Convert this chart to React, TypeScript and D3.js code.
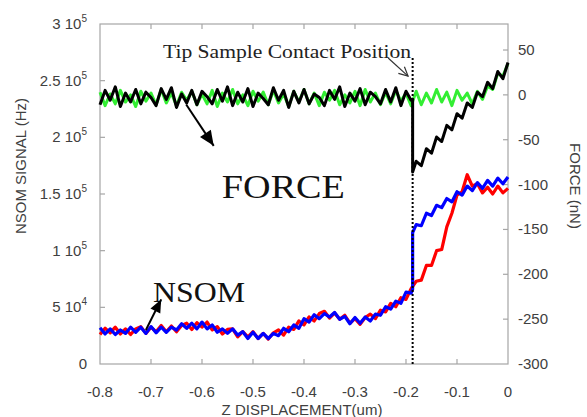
import React from "react";
import * as d3 from "d3";

// ---- data ----
const zPre = [-0.80, -0.79, -0.78, -0.77, -0.76, -0.75, -0.74, -0.73, -0.72, -0.71,
  -0.70, -0.69, -0.68, -0.67, -0.66, -0.65, -0.64, -0.63, -0.62, -0.61,
  -0.60, -0.59, -0.58, -0.57, -0.56, -0.55, -0.54, -0.53, -0.52, -0.51,
  -0.50, -0.49, -0.48, -0.47, -0.46, -0.45, -0.44, -0.43, -0.42, -0.41,
  -0.40, -0.39, -0.38, -0.37, -0.36, -0.35, -0.34, -0.33, -0.32, -0.31,
  -0.30, -0.29, -0.28, -0.27, -0.26, -0.25, -0.24, -0.23, -0.22, -0.21,
  -0.20, -0.19];
const zPost = [-0.18, -0.17, -0.16, -0.15, -0.14, -0.13, -0.12, -0.11, -0.10, -0.09,
  -0.08, -0.07, -0.06, -0.05, -0.04, -0.03, -0.02, -0.01, 0.00];
const contactZ = -0.187;

const nsomBluePre = [32000, 26500, 31000, 26000, 30000, 27000, 32500, 28000, 32500, 27000,
  33000, 27500, 32500, 28000, 32500, 30000, 35500, 31500, 36000, 31000,
  37000, 31000, 34500, 28000, 31000, 27000, 31000, 25500, 28500, 22500,
  28000, 22500, 27000, 22500, 27000, 25000, 31500, 28500, 34500, 31500,
  40000, 37000, 43500, 40000, 44500, 41500, 45500, 39500, 42000, 35500,
  41000, 36000, 41500, 38000, 44000, 43000, 50500, 48500, 55500, 53500,
  63500, 62500];
const nsomBlueJump = [66000, 116000];
const nsomBluePost = [123000, 122000, 133000, 131000, 140000, 138000, 146000, 143000, 152000, 149000,
  157000, 153000, 160000, 155000, 162000, 157000, 164000, 159000, 165000];

const nsomRedPre = [26000, 31500, 27500, 32500, 26500, 31000, 26000, 31000, 33000, 27000,
  32500, 28500, 34000, 28500, 33500, 28500, 34000, 36000, 30500, 36500,
  32500, 37000, 30000, 33000, 26500, 30500, 31000, 24000, 28500, 24000,
  28500, 22500, 27000, 22000, 27500, 30000, 25500, 32500, 30500, 38000,
  34500, 41500, 38000, 44500, 46500, 40500, 45000, 39500, 43000, 36000,
  40000, 35000, 41000, 44000, 40000, 47500, 46000, 53500, 50500, 58500,
  57000, 66500];
const nsomRedPost = [73000, 74000, 87000, 87000, 100000, 101000, 121000, 133000, 149000, 152000,
  167000, 157000, 159000, 151000, 156000, 150000, 157000, 151000, 155000];

const forceGreenPre = [3, -12, 1, -10, 5, -8, 0, -13, 4, -7, 2, -11,
  6, -9, 2, -12, 3, -6, 4, -11, 1, -10, 5, -13,
  2, -8, 6, -10, 0, -12, 4, -7, 3, -11, 5, -9,
  1, -13, 4, -8, 6, -10, 2, -12, 3, -6, 5, -11,
  0, -9, 4, -12, 6, -8, 2, -11, 3, -10, 5, -7,
  2, -12];
const forceGreenPost = [4, -11, 2, -9, 6, -8, 3, -12, 5, -6, 2, -10, 4, -5, 10, 6, 24, 21, 35];

const forceBlackPre = [-11, 5, -6, 9, -13, 2, -8, 6, -10, 3, -3,
  -12, 7, -5, 8, -14, 1, -9, 5, -11, 4, -2,
  -10, 6, -7, 9, -12, 3, -8, 7, -13, 2, -4,
  -11, 8, -6, 5, -14, 4, -9, 6, -10, 1, -3,
  -12, 5, -5, 9, -13, 2, -7, 7, -11, 3, -2,
  -10, 6, -8, 8, -12, 4, -6];
const forceBlackJump = [-5, -86];
const forceBlackPost = [-74, -79, -60, -65, -47, -52, -34, -39, -21, -26, -9, -14, 3, -2, 14, 7, 26, 18, 36];

const zTicks = [-0.8, -0.7, -0.6, -0.5, -0.4, -0.3, -0.2, -0.1, 0];
const zTickLabels = ["-0.8", "-0.7", "-0.6", "-0.5", "-0.4", "-0.3", "-0.2", "-0.1", "0"];
const nsomTicks = [0, 50000, 100000, 150000, 200000, 250000, 300000];
const nsomTickMantissa = ["0", "5", "1", "1.5", "2", "2.5", "3"];
const nsomTickExp = ["", "4", "5", "5", "5", "5", "5"];
const forceTicks = [-300, -250, -200, -150, -100, -50, 0, 50];
const forceTickLabels = ["-300", "-250", "-200", "-150", "-100", "-50", "0", "50"];

// annotations (data coordinates: z, NSOM Hz)
const contactLabel = "Tip Sample Contact Position";
const contactLabelPos = [-0.6765, 270000];
const contactArrow = [[-0.235, 270000], [-0.196, 254000]];
const forceLabelPos = [-0.561, 146500];
const forceArrow = [[-0.631, 229000], [-0.577, 192500]];
const nsomLabelPos = [-0.696, 54700];
const nsomArrow = [[-0.710, 30000], [-0.680, 57000]];
const contactLineTop = 270000;

// ---- layout ----
const W = 587, H = 417;
const L = 100, R = 508, T = 24, B = 364;

export default function App() {
  const x = d3.scaleLinear().domain([-0.8, 0]).range([L, R]);
  const yN = d3.scaleLinear().domain([0, 300000]).range([B, T]);
  const yF = d3.scaleLinear().domain([-300, 79]).range([B, T]);

  const lineN = d3.line<[number, number]>().x(d => x(d[0])).y(d => yN(d[1]));
  const lineF = d3.line<[number, number]>().x(d => x(d[0])).y(d => yF(d[1]));

  const pair = (zs: number[], vs: number[]) => zs.map((z, i) => [z, vs[i]] as [number, number]);

  const redPts = [...pair(zPre, nsomRedPre), ...pair(zPost, nsomRedPost)];
  const bluePts = [...pair(zPre, nsomBluePre), ...pair([contactZ, contactZ], nsomBlueJump), ...pair(zPost, nsomBluePost)];
  const greenPts = [...pair(zPre, forceGreenPre), ...pair(zPost, forceGreenPost)];
  const blackPts = [...pair(zPre, forceBlackPre), ...pair([contactZ, contactZ], forceBlackJump), ...pair(zPost, forceBlackPost)];

  const frame = "#a6a6a6";
  const lab = "#404040";
  const sans = "Arial, 'Liberation Sans', sans-serif";
  const serif = "'Times New Roman', 'Liberation Serif', serif";

  const arrowHead = (p0: number[], p1: number[], len: number, wid: number) => {
    const x0 = x(p0[0]), y0 = yN(p0[1]), x1 = x(p1[0]), y1 = yN(p1[1]);
    const dx = x1 - x0, dy = y1 - y0, d = Math.hypot(dx, dy);
    const ux = dx / d, uy = dy / d;
    const bx = x1 - ux * len, by = y1 - uy * len;
    return `M${x1},${y1} L${bx - uy * wid / 2},${by + ux * wid / 2} L${bx + uy * wid / 2},${by - ux * wid / 2} Z`;
  };
  const openHead = (p0: number[], p1: number[], len: number, wid: number) => {
    const x0 = x(p0[0]), y0 = yN(p0[1]), x1 = x(p1[0]), y1 = yN(p1[1]);
    const dx = x1 - x0, dy = y1 - y0, d = Math.hypot(dx, dy);
    const ux = dx / d, uy = dy / d;
    const bx = x1 - ux * len, by = y1 - uy * len;
    return `M${bx - uy * wid / 2},${by + ux * wid / 2} L${x1},${y1} L${bx + uy * wid / 2},${by - ux * wid / 2}`;
  };

  return (
    <svg width={W} height={H} style={{ position: "absolute", left: 0, top: 0, background: "#fff" }}>
      {/* frame */}
      <rect x={L} y={T} width={R - L} height={B - T} fill="none" stroke={frame} strokeWidth={1.2} />
      {/* x ticks */}
      {zTicks.slice(1, -1).map(t => (
        <g key={"zt" + t}>
          <line x1={x(t)} x2={x(t)} y1={B} y2={B - 5} stroke={frame} strokeWidth={1.2} />
          <line x1={x(t)} x2={x(t)} y1={T} y2={T + 5} stroke={frame} strokeWidth={1.2} />
        </g>
      ))}
      {zTicks.map((t, i) => (
        <text key={"zl" + t} x={x(t)} y={397} textAnchor="middle" fontFamily={sans} fontSize={15} fill={lab}>{zTickLabels[i]}</text>
      ))}
      {/* left ticks */}
      {nsomTicks.slice(1, -1).map(t => (
        <line key={"nt" + t} x1={L} x2={L + 5} y1={yN(t)} y2={yN(t)} stroke={frame} strokeWidth={1.2} />
      ))}
      {nsomTicks.map((t, i) => (
        <text key={"nl" + t} x={87} y={yN(t) + 5} textAnchor="end" fontFamily={sans} fontSize={15} fill={lab}>
          {nsomTickExp[i] ? nsomTickMantissa[i] + " 10" : nsomTickMantissa[i]}
          {nsomTickExp[i] ? <tspan dy={-7} fontSize={10}>{nsomTickExp[i]}</tspan> : null}
        </text>
      ))}
      {/* right ticks */}
      {forceTicks.slice(1).map(t => (
        <line key={"ft" + t} x1={R} x2={R - 5} y1={yF(t)} y2={yF(t)} stroke={frame} strokeWidth={1.2} />
      ))}
      {forceTicks.map((t, i) => (
        <text key={"fl" + t} x={518} y={yF(t) + 5} textAnchor="start" fontFamily={sans} fontSize={15} fill={lab}>{forceTickLabels[i]}</text>
      ))}
      {/* axis titles */}
      <text x={302} y={415} textAnchor="middle" fontFamily={sans} fontSize={15} fill={lab}>Z DISPLACEMENT(um)</text>
      <text transform={`translate(26,${166}) rotate(-90)`} textAnchor="middle" fontFamily={sans} fontSize={15} fill={lab}>NSOM SIGNAL (Hz)</text>
      <text transform={`translate(570,${186}) rotate(90)`} textAnchor="middle" fontFamily={sans} fontSize={15} fill={lab}>FORCE (nN)</text>

      {/* data */}
      <path d={lineF(greenPts) ?? ""} fill="none" stroke="#33ee33" strokeWidth={3} strokeLinejoin="round" />
      <path d={lineF(blackPts) ?? ""} fill="none" stroke="#000" strokeWidth={3} strokeLinejoin="round" />
      <path d={lineN(redPts) ?? ""} fill="none" stroke="#ff0000" strokeWidth={3.2} strokeLinejoin="round" />
      <path d={lineN(bluePts) ?? ""} fill="none" stroke="#0000ff" strokeWidth={3.2} strokeLinejoin="round" />

      {/* contact line */}
      <line x1={x(contactZ)} x2={x(contactZ)} y1={yN(0)} y2={yN(contactLineTop)} stroke="#000" strokeWidth={2} strokeDasharray="2,2" />

      {/* annotations */}
      <text x={x(contactLabelPos[0])} y={yN(contactLabelPos[1])} fontFamily={serif} fontSize={19} fill="#222" textLength={248} lengthAdjust="spacingAndGlyphs">{contactLabel}</text>
      <line x1={x(contactArrow[0][0])} y1={yN(contactArrow[0][1])} x2={x(contactArrow[1][0])} y2={yN(contactArrow[1][1])} stroke="#333" strokeWidth={1.2} />
      <path d={openHead(contactArrow[0], contactArrow[1], 9, 9)} fill="none" stroke="#333" strokeWidth={1.2} />

      <text x={x(forceLabelPos[0])} y={yN(forceLabelPos[1])} fontFamily={serif} fontSize={33} fill="#111" textLength={123} lengthAdjust="spacingAndGlyphs">FORCE</text>
      <line x1={x(forceArrow[0][0])} y1={yN(forceArrow[0][1])} x2={x(forceArrow[1][0])} y2={yN(forceArrow[1][1])} stroke="#000" strokeWidth={2} />
      <path d={arrowHead(forceArrow[0], forceArrow[1], 15, 13)} fill="#000" />

      <text x={x(nsomLabelPos[0])} y={yN(nsomLabelPos[1])} fontFamily={serif} fontSize={30} fill="#111" textLength={92} lengthAdjust="spacingAndGlyphs">NSOM</text>
      <line x1={x(nsomArrow[0][0])} y1={yN(nsomArrow[0][1])} x2={x(nsomArrow[1][0])} y2={yN(nsomArrow[1][1])} stroke="#000" strokeWidth={2} />
      <path d={arrowHead(nsomArrow[0], nsomArrow[1], 13, 11)} fill="#000" />
    </svg>
  );
}
